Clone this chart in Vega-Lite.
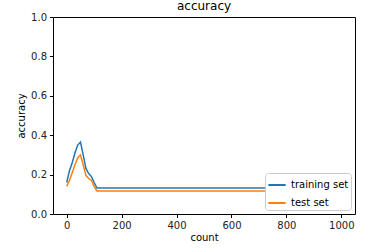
{
  "$schema": "https://vega.github.io/schema/vega-lite/v6.json",
  "width": 302,
  "height": 197,
  "autosize": {"type": "none"},
  "padding": {"left": 53, "top": 17, "right": 37, "bottom": 38},
  "background": "white",
  "title": {"text": "accuracy", "fontSize": 12, "font": "DejaVu Sans", "fontWeight": "normal", "color": "#000", "offset": -1},
  "config": {
    "view": {"stroke": "#000", "strokeWidth": 1},
    "axis": {"grid": false, "domain": false, "tickColor": "#000", "tickSize": 3.5, "labelFont": "DejaVu Sans", "labelFontSize": 10, "labelColor": "#222", "titleFont": "DejaVu Sans", "titleFontSize": 10, "titleFontWeight": "normal", "titleColor": "#000", "labelPadding": 3}
  },
  "data": {"values": [
    {"count": 0, "acc": 0.16, "set": "training set"},
    {"count": 10, "acc": 0.22, "set": "training set"},
    {"count": 20, "acc": 0.26, "set": "training set"},
    {"count": 30, "acc": 0.31, "set": "training set"},
    {"count": 40, "acc": 0.35, "set": "training set"},
    {"count": 50, "acc": 0.365, "set": "training set"},
    {"count": 60, "acc": 0.30, "set": "training set"},
    {"count": 70, "acc": 0.23, "set": "training set"},
    {"count": 80, "acc": 0.205, "set": "training set"},
    {"count": 90, "acc": 0.19, "set": "training set"},
    {"count": 100, "acc": 0.16, "set": "training set"},
    {"count": 110, "acc": 0.132, "set": "training set"},
    {"count": 1000, "acc": 0.132, "set": "training set"},
    {"count": 0, "acc": 0.14, "set": "test set"},
    {"count": 10, "acc": 0.17, "set": "test set"},
    {"count": 20, "acc": 0.21, "set": "test set"},
    {"count": 30, "acc": 0.25, "set": "test set"},
    {"count": 40, "acc": 0.285, "set": "test set"},
    {"count": 50, "acc": 0.30, "set": "test set"},
    {"count": 60, "acc": 0.25, "set": "test set"},
    {"count": 70, "acc": 0.195, "set": "test set"},
    {"count": 80, "acc": 0.18, "set": "test set"},
    {"count": 90, "acc": 0.17, "set": "test set"},
    {"count": 100, "acc": 0.14, "set": "test set"},
    {"count": 110, "acc": 0.117, "set": "test set"},
    {"count": 1000, "acc": 0.117, "set": "test set"}
  ]},
  "mark": {"type": "line", "strokeWidth": 1.5},
  "encoding": {
    "x": {"field": "count", "type": "quantitative", "title": "count",
          "scale": {"domain": [-50, 1050], "nice": false, "zero": false},
          "axis": {"values": [0, 200, 400, 600, 800, 1000], "format": "d", "titlePadding": 2}},
    "y": {"field": "acc", "type": "quantitative", "title": "accuracy",
          "scale": {"domain": [0, 1], "nice": false},
          "axis": {"values": [0, 0.2, 0.4, 0.6, 0.8, 1.0], "format": ".1f", "titlePadding": 4}},
    "color": {"field": "set", "type": "nominal",
              "scale": {"domain": ["training set", "test set"], "range": ["#1f77b4", "#ff7f0e"]},
              "legend": {"title": null, "orient": "bottom-right", "offset": 4, "symbolType": "stroke", "symbolStrokeWidth": 2, "symbolSize": 300,
                         "labelFont": "DejaVu Sans", "labelFontSize": 10, "labelColor": "#000",
                         "fillColor": "white", "strokeColor": "#ccc", "cornerRadius": 3, "padding": 2, "rowPadding": 3}},
    "order": {"field": "count", "type": "quantitative"}
  }
}
